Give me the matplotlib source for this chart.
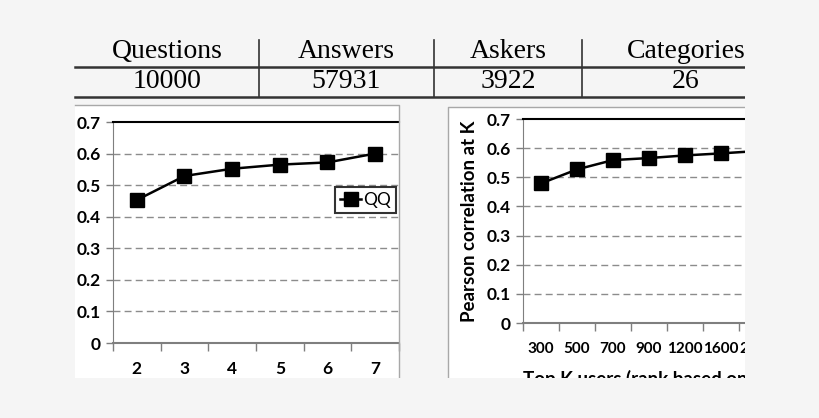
import matplotlib
matplotlib.use("Agg")
import matplotlib.pyplot as plt
from matplotlib.lines import Line2D
from matplotlib.patches import Rectangle

# table above the charts
table_headers = ["Questions", "Answers", "Askers", "Categories"]
table_values = ["10000", "57931", "3922", "26"]

# left chart
left_x = ["2", "3", "4", "5", "6", "7"]
left_qq = [0.453, 0.529, 0.552, 0.565, 0.572, 0.600]

# right chart
right_x = ["300", "500", "700", "900", "1200", "1600", "2000"]
right_corr = [0.479, 0.527, 0.559, 0.566, 0.575, 0.582, 0.590]

W, H = 820, 418
BG = "#f5f5f5"
GRID = "#8c8c8c"
SPINE = "#7f7f7f"
PANEL_EDGE = "#a8a8a8"
TICKFONT = dict(family="Lato", size=12.5, weight="bold")


def fx(px):
    return px / W


def fy(py):
    return 1 - py / H


def fig_line(xs, ys, **kw):
    fig.add_artist(Line2D([fx(x) for x in xs], [fy(y) for y in ys],
                          transform=fig.transFigure, **kw))


fig = plt.figure(figsize=(W / 100, H / 100), dpi=100, facecolor=BG)

# white panels behind the two charts
for x0, y0, x1 in [(75, 105, 399), (448, 107, 790)]:
    fig.add_artist(Rectangle((fx(x0), 0), fx(x1) - fx(x0), fy(y0),
                             transform=fig.transFigure, facecolor="white",
                             edgecolor="none", zorder=-5))
fig_line([75, 399, 399], [105, 105, 418], color=PANEL_EDGE, lw=1)
fig_line([448, 448, 790], [418, 107, 107], color=PANEL_EDGE, lw=1)

# table
col_edges = [75, 259, 434, 582, 790]
for i, (hd, val) in enumerate(zip(table_headers, table_values)):
    cx = fx((col_edges[i] + col_edges[i + 1]) / 2)
    fig.text(cx, fy(51), hd, ha="center", va="center",
             family="Liberation Serif", fontsize=20)
    fig.text(cx, fy(81), val, ha="center", va="center",
             family="Liberation Serif", fontsize=20)
for yy in (67, 97):
    fig_line([75, 790], [yy, yy], color="#333", lw=1.8)
for xx in col_edges[1:-1]:
    fig_line([xx, xx], [40, 97], color="#333", lw=1.2)


def style_axes(ax, cats, vals, xsize, xpad):
    n = len(cats)
    pos = list(range(n))
    ax.plot(pos, vals, color="black", lw=1.8, marker="s", markersize=10,
            label="QQ", clip_on=False, zorder=5)
    ax.set_ylim(0, 0.7)
    ax.set_yticks([0, 0.1, 0.2, 0.3, 0.4, 0.5, 0.6, 0.7])
    ax.set_yticklabels(["0", "0.1", "0.2", "0.3", "0.4", "0.5", "0.6", "0.7"],
                       **TICKFONT)
    ax.set_xticks(pos)
    ax.set_xticklabels(cats, family="Lato", size=xsize, weight="bold")
    ax.set_xticks([p - 0.5 for p in range(n + 1)], minor=True)
    ax.tick_params(axis="x", which="major", length=0, pad=xpad)
    ax.tick_params(axis="x", which="minor", length=6, color=SPINE, width=1)
    ax.tick_params(axis="y", length=5, color=SPINE, width=1, pad=4)
    for y in [0.1, 0.2, 0.3, 0.4, 0.5, 0.6]:
        ax.axhline(y, color=GRID, lw=1, ls=(0, (5, 3)), zorder=1)
    ax.spines["left"].set_color(SPINE)
    ax.spines["bottom"].set_color(SPINE)
    ax.spines["bottom"].set_linewidth(1.5)
    ax.spines["right"].set_visible(False)
    ax.spines["top"].set_color("black")
    ax.spines["top"].set_linewidth(1.5)
    ax.set_facecolor("white")


# left chart
ax1 = fig.add_axes([fx(113), fy(343), fx(399) - fx(113), fy(122) - fy(343)])
style_axes(ax1, left_x, left_qq, 12.5, 13)
ax1.set_xlim(-0.5, len(left_x) - 0.5)
leg = ax1.legend(loc="upper left", bbox_to_anchor=(0.776, 0.706),
                 borderaxespad=0, frameon=True, fancybox=False,
                 handlelength=1.2, handletextpad=0.1, borderpad=0.3,
                 prop=dict(family="Lato", size=12.5))
leg.get_frame().set_edgecolor("black")
leg.get_frame().set_linewidth(1.5)

# right chart
ax2 = fig.add_axes([fx(523), fy(323), 7 * 36 / W, fy(119) - fy(323)])
style_axes(ax2, right_x, right_corr, 11, 14)
ax2.set_xlim(-0.5, len(right_x) - 0.5)
ax2.set_ylabel("Pearson correlation at K", family="Lato", fontsize=13.5,
               weight="bold", labelpad=6)
ax2.set_xlabel("Top K users (rank based on # of answers)", family="Lato",
               fontsize=13.5, weight="bold", labelpad=10, loc="left")

# crop of the screenshot: grey margins on the right and bottom
fig.add_artist(Rectangle((fx(745), 0), 1 - fx(745), 1,
                         transform=fig.transFigure, facecolor=BG,
                         edgecolor="none", zorder=20))
fig.add_artist(Rectangle((0, 0), 1, fy(378), transform=fig.transFigure,
                         facecolor=BG, edgecolor="none", zorder=20))

fig.savefig("out.png", dpi=100, facecolor=BG)
